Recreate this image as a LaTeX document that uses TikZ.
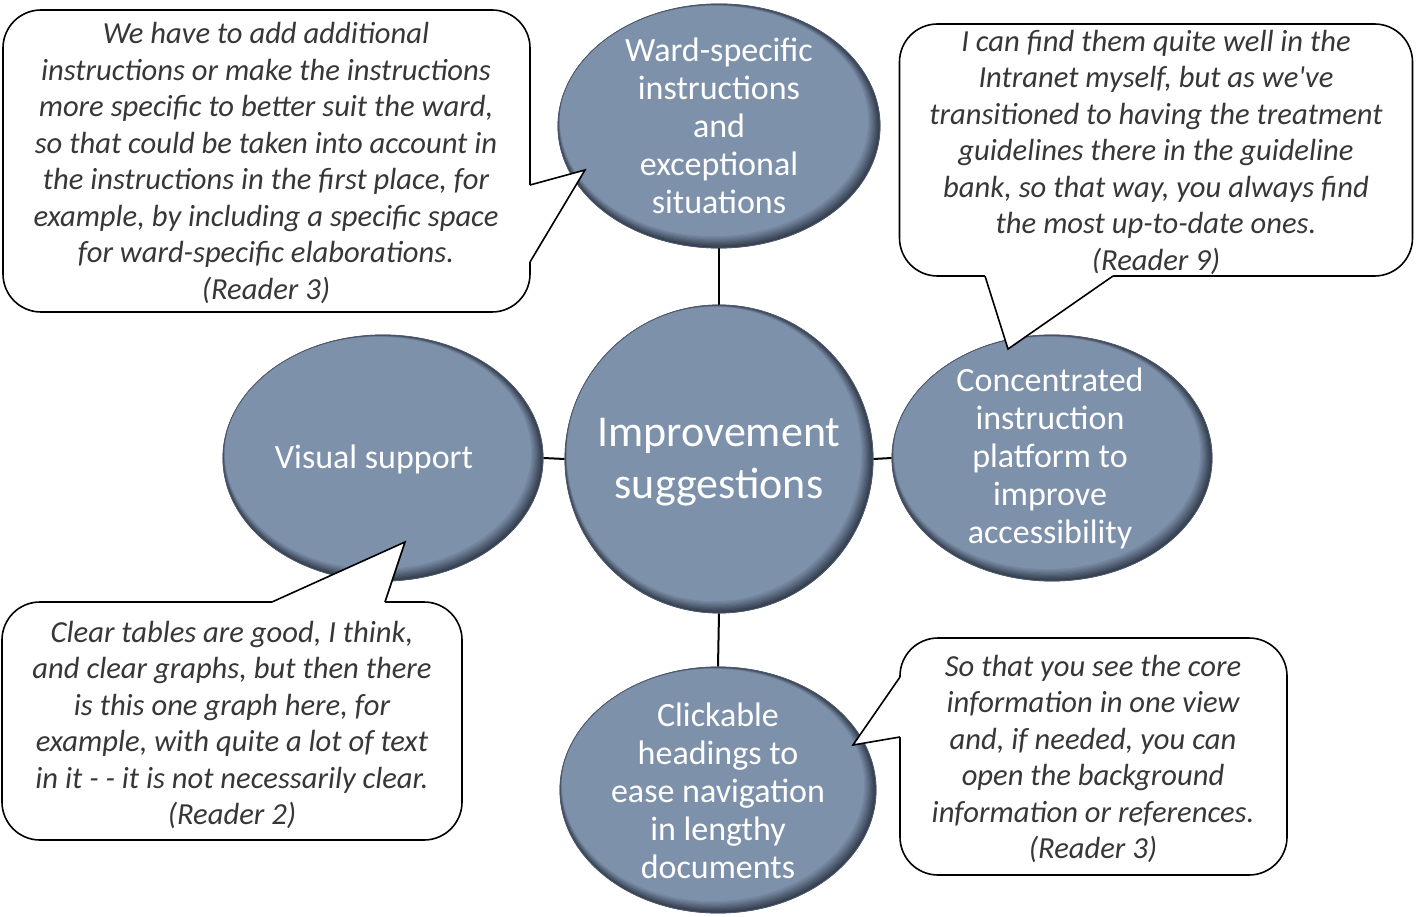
\documentclass[tikz,border=0pt]{standalone}
\usepackage{fontspec}
\setmainfont{Carlito}
\newfontfamily\qfont{Carlito}
\usetikzlibrary{shapes.geometric,calc}
\definecolor{bub}{RGB}{126,145,171}
\definecolor{bubdark}{RGB}{50,60,76}
\definecolor{bubline}{RGB}{78,90,108}
\definecolor{quote}{RGB}{55,55,55}
\tikzset{
  topic/.style={ellipse, draw=bubline, line width=0.8pt, inner sep=0pt},
  topictext/.style={text=white, align=center, inner sep=0pt, font=\fontsize{34}{38}\selectfont},
  link/.style={line width=2pt, draw=black},
  cbox/.style={draw=black, fill=white, line width=1.6pt, rounded corners=38pt, align=center, inner sep=0pt, text=quote, font=\qfont\itshape\fontsize{30.6}{36.5}\selectfont},
  cptr/.style={draw=black, line width=1.6pt, line join=miter},
}
\newcommand{\bevel}[4]{%
  \foreach \d in {0,...,10}{%
    \pgfmathtruncatemacro{\p}{\d*10}%
    \fill[bub!\p!bubdark] (#1-0.5*\d,#2-0.5*\d) ellipse [x radius=#3-0.7*\d, y radius=#4-0.7*\d];
  }}
\begin{document}
\begin{tikzpicture}[x=1pt,y=-1pt]
\useasboundingbox (0,0) rectangle (1417,917);

% ellipse outlines (nodes)
\node[topic, minimum width=322pt, minimum height=244pt] (ward) at (719,126) {};
\node[topic, minimum width=308pt, minimum height=308pt] (hub) at (719,459) {};
\node[topic, minimum width=320pt, minimum height=246pt] (vis) at (383,458) {};
\node[topic, minimum width=320pt, minimum height=246pt] (conc) at (1052,458) {};
\node[topic, minimum width=316pt, minimum height=246pt] (click) at (718,790) {};

% connectors
\draw[link] (ward.south) -- (hub.north);
\draw[link] (vis.east) -- (hub.west);
\draw[link] (hub.east) -- (conc.west);
\draw[link] (hub.south) -- (click.north);

% bevel fills
\bevel{719}{126}{161}{122}
\bevel{719}{459}{154}{154}
\bevel{383}{458}{160}{123}
\bevel{1052}{458}{160}{123}
\bevel{718}{790}{158}{123}

% redraw outlines on top
\node[topic, minimum width=322pt, minimum height=244pt] at (ward.center) {};
\node[topic, minimum width=308pt, minimum height=308pt] at (hub.center) {};
\node[topic, minimum width=320pt, minimum height=246pt] at (vis.center) {};
\node[topic, minimum width=320pt, minimum height=246pt] at (conc.center) {};
\node[topic, minimum width=316pt, minimum height=246pt] at (click.center) {};

% ellipse texts
\node[topictext] (wardt) at (719,126) {Ward-specific\\instructions\\and\\exceptional\\situations};
\node[topictext, font=\fontsize{44}{52}\selectfont] (hubt) at (719,462) {Improvement\\suggestions};
\node[topictext] (vist) at (374,459) {Visual support};
\node[topictext] (conct) at (1050,458) {Concentrated\\instruction\\platform to\\improve\\accessibility};
\node[topictext] (clickt) at (718,791) {Clickable\\headings to\\ease navigation\\in lengthy\\documents};

% callout 1 (top left)
\node[cbox, minimum width=527pt, minimum height=302pt] (q1) at (266.5,161) {};
\node[cbox, draw=none, fill=none] (q1t) at (266,163) {We have to add additional\\instructions or make the instructions\\more specific to better suit the ward,\\so that could be taken into account in\\the instructions in the first place, for\\example, by including a specific space\\for ward-specific elaborations.\\(Reader 3)};
\coordinate (q1a) at (530,185);
\coordinate (q1b) at (530,262);
\coordinate (q1p) at (585,170);
\fill[white] ($(q1a)+(-3,0)$) -- (q1a) -- (q1p) -- (q1b) -- ($(q1b)+(-3,0)$) -- cycle;
\draw[cptr] (q1a) -- (q1p) -- (q1b);

% callout 2 (top right)
\node[cbox, minimum width=513pt, minimum height=252pt] (q2) at (1156,150) {};
\node[cbox, draw=none, fill=none] (q2t) at (1156,152) {I can find them quite well in the\\Intranet myself, but as we've\\transitioned to having the treatment\\guidelines there in the guideline\\bank, so that way, you always find\\the most up-to-date ones.\\(Reader 9)};
\coordinate (q2a) at (985,276);
\coordinate (q2b) at (1113,276);
\coordinate (q2p) at (1008,349);
\fill[white] ($(q2a)+(0,-3)$) -- (q2a) -- (q2p) -- (q2b) -- ($(q2b)+(0,-3)$) -- cycle;
\draw[cptr] (q2a) -- (q2p) -- (q2b);

% callout 3 (bottom left)
\node[cbox, minimum width=460pt, minimum height=238pt] (q3) at (232,721) {};
\node[cbox, draw=none, fill=none] (q3t) at (232,725) {Clear tables are good, I think,\\and clear graphs, but then there\\is this one graph here, for\\example, with quite a lot of text\\in it - - it is not necessarily clear.\\(Reader 2)};
\coordinate (q3a) at (272,602);
\coordinate (q3b) at (385,602);
\coordinate (q3p) at (405,542);
\fill[white] ($(q3a)+(0,3)$) -- (q3a) -- (q3p) -- (q3b) -- ($(q3b)+(0,3)$) -- cycle;
\draw[cptr] (q3a) -- (q3p) -- (q3b);

% callout 4 (bottom right)
\node[cbox, minimum width=387pt, minimum height=237pt] (q4) at (1093.5,756.5) {};
\node[cbox, draw=none, fill=none] (q4t) at (1093,759) {So that you see the core\\information in one view\\and, if needed, you can\\open the background\\information or references.\\(Reader 3)};
\coordinate (q4a) at (900,677);
\coordinate (q4b) at (900,737);
\coordinate (q4p) at (853,745);
\fill[white] ($(q4a)+(3,0)$) -- (q4a) -- (q4p) -- (q4b) -- ($(q4b)+(3,0)$) -- cycle;
\draw[cptr] (q4a) -- (q4p) -- (q4b);
\end{tikzpicture}
\end{document}
